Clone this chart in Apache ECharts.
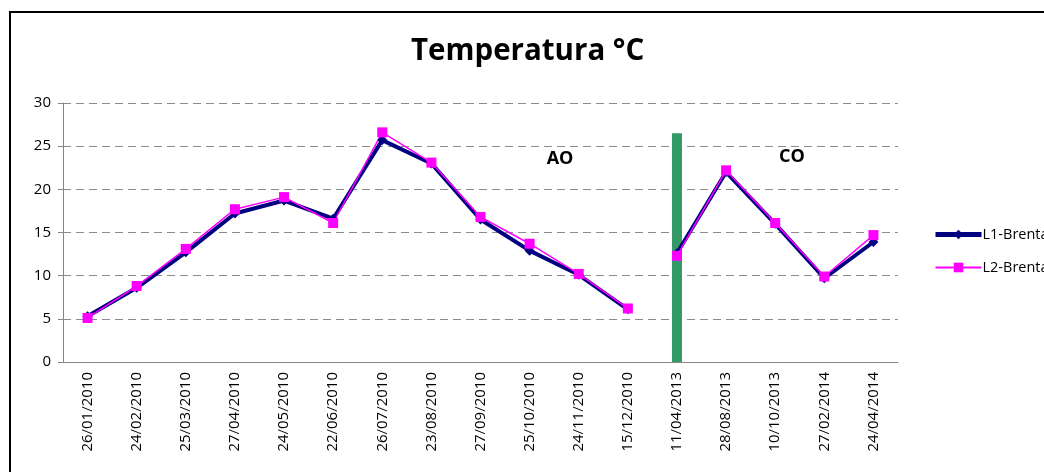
<!DOCTYPE html>
<html>
<head>
<meta charset="utf-8">
<script src="https://cdn.jsdelivr.net/npm/echarts@6/dist/echarts.min.js"></script>
<style>
  html, body { margin: 0; padding: 0; background: #fff; }
  #chart { width: 1044px; height: 472px; }
</style>
</head>
<body>
<div id="chart"></div>
<script>
const dates = ['26/01/2010', '24/02/2010', '25/03/2010', '27/04/2010', '24/05/2010', '22/06/2010',
  '26/07/2010', '23/08/2010', '27/09/2010', '25/10/2010', '24/11/2010', '15/12/2010',
  '11/04/2013', '28/08/2013', '10/10/2013', '27/02/2014', '24/04/2014'];
const l1 = [5.3, 8.6, 12.7, 17.2, 18.7, 16.6, 25.7, 23.0, 16.5, 12.9, 10.1, 6.1,
  12.6, 22.0, 16.0, 9.7, 13.9];
const l2 = [5.1, 8.8, 13.1, 17.7, 19.1, 16.1, 26.6, 23.1, 16.8, 13.7, 10.2, 6.2,
  12.3, 22.2, 16.1, 9.9, 14.7];
// separator bar between the two campaigns
const separator = [null, null, null, null, null, null, null, null, null, null, null, null,
  26.5, null, null, null, null];
const breakAt = 12; // lines are not joined across the separator
const yTicks = [0, 30, 5];

const font = 'Open Sans';
const before = arr => arr.map((v, i) => i < breakAt ? v : null);
const after = arr => arr.map((v, i) => i >= breakAt ? v : null);

function lineSeries(name, data, color, width, symbol, size) {
  return {
    name: name,
    type: 'line',
    data: data,
    symbol: symbol,
    symbolSize: size,
    z: 3,
    lineStyle: { color: color, width: width },
    itemStyle: { color: color },
    emphasis: { disabled: true }
  };
}

const chart = echarts.init(document.getElementById('chart'));
chart.setOption({
  animation: false,
  backgroundColor: '#fff',
  textStyle: { fontFamily: font },
  title: {
    text: 'Temperatura °C',
    left: 406,
    top: 32,
    textStyle: { fontFamily: font, fontSize: 29.5, fontWeight: 'bold', color: '#000' }
  },
  legend: {
    data: [
      { name: 'L1-Brenta', lineStyle: { width: 5 } },
      { name: 'L2-Brenta', lineStyle: { width: 2 } }
    ],
    orient: 'vertical',
    left: 928,
    top: 222,
    itemWidth: 46,
    itemHeight: 12,
    itemGap: 18,
    textStyle: { fontFamily: font, fontSize: 14.5, color: '#000', padding: [0, 0, 0, -4] }
  },
  grid: { left: 63, right: 146, top: 103, bottom: 110 },
  xAxis: {
    type: 'category',
    data: dates,
    axisLine: { lineStyle: { color: '#868686' } },
    axisTick: { length: 5, lineStyle: { color: '#868686' } },
    axisLabel: { interval: 0, rotate: 90, margin: 10, fontSize: 15, color: '#000', fontFamily: font }
  },
  yAxis: {
    type: 'value',
    min: yTicks[0],
    max: yTicks[1],
    interval: yTicks[2],
    axisLine: { show: true, lineStyle: { color: '#868686' } },
    axisTick: { show: true, length: 5, lineStyle: { color: '#868686' } },
    axisLabel: { fontSize: 15, color: '#000', margin: 12, fontFamily: font },
    splitLine: { lineStyle: { type: [8, 5], color: '#8c8c8c' } }
  },
  graphic: [
    { type: 'rect', shape: { x: 10, y: 12, width: 1100, height: 500 },
      style: { fill: 'none', stroke: '#000', lineWidth: 2 }, z: 10 },
    { type: 'text', x: 560, y: 159, style: { text: 'AO', fontFamily: font, fontSize: 18,
      fontWeight: 'bold', fill: '#000', textAlign: 'center', textVerticalAlign: 'middle' } },
    { type: 'text', x: 792, y: 157, style: { text: 'CO', fontFamily: font, fontSize: 18,
      fontWeight: 'bold', fill: '#000', textAlign: 'center', textVerticalAlign: 'middle' } }
  ],
  series: [
    {
      type: 'bar',
      data: separator,
      barWidth: 10,
      z: 1,
      itemStyle: { color: '#339966' }
    },
    lineSeries('L1-Brenta', before(l1), '#000080', 4, 'diamond', 10),
    lineSeries('L1-Brenta', after(l1), '#000080', 4, 'diamond', 10),
    lineSeries('L2-Brenta', before(l2), '#ff00ff', 1.5, 'rect', 10),
    lineSeries('L2-Brenta', after(l2), '#ff00ff', 1.5, 'rect', 10)
  ]
});
</script>
</body>
</html>
